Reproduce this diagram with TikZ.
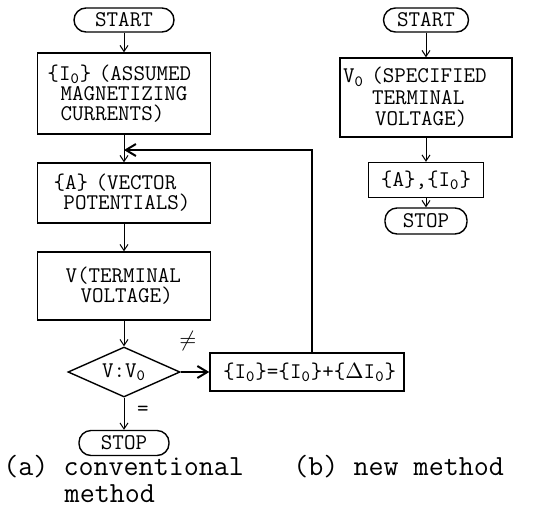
\documentclass[tikz,border=0pt]{standalone}
\usepackage{fontspec}
\usetikzlibrary{shapes,arrows.meta}
\tikzstyle{block} = [draw, rectangle, line width=0.7pt, align=left,
    inner xsep=0pt, inner ysep=2pt]
\tikzstyle{terminal} = [draw, rectangle, rounded corners=6pt,
    line width=0.7pt, minimum height=12pt, inner sep=1pt]
\tikzstyle{decision} = [draw, diamond, aspect=2.2, inner sep=0pt,
    minimum width=56pt, minimum height=25pt, line width=0.7pt]
\tikzstyle{flow} = [draw, -{Straight Barb[length=3pt,width=4pt]}, line width=0.5pt]
\tikzstyle{loopline} = [draw, -{Straight Barb[length=5pt,width=6pt]}, line width=1pt]
\tikzstyle{caption} = [anchor=base west, inner sep=0pt,
    font=\ttfamily\fontsize{14.6}{14}\selectfont]
\newcommand{\ind}[1]{\hspace*{#1pt}}

\begin{document}
\begin{tikzpicture}[font=\ttfamily\fontsize{11.2}{10}\selectfont]
    \useasboundingbox (0,0) rectangle (267pt,-254.5pt);
    % conventional method, left column
    \node [terminal, minimum width=50pt] (start1) at (62pt,-10pt) {START};
    \node [block, below of=start1, node distance=36.75pt, text width=86.5pt,
        minimum height=40.5pt] (assumed)
        {\ind{5}\{I\textsubscript{0}\} (ASSUMED\\\ind{11.5}MAGNETIZING\\\ind{11.5}CURRENTS)};
    \node [block, below of=assumed, node distance=49.75pt, text width=86.5pt,
        minimum height=30pt] (potential)
        {\ind{8}\{A\} (VECTOR\\\ind{13}POTENTIALS)};
    \node [block, below of=potential, node distance=46.5pt, text width=86.5pt,
        minimum height=34pt] (voltage)
        {\ind{14}V(TERMINAL\\\ind{21.5}VOLTAGE)};
    \node [decision, below of=voltage, node distance=43pt] (compare) {V:V\textsubscript{0}};
    \node [terminal, below of=compare, node distance=35.5pt, minimum width=45pt,
        minimum height=12.5pt] (stop1) {STOP};
    \node [block, right of=compare, node distance=91.5pt, text width=97pt,
        minimum height=19pt] (update)
        {\ind{6.5}\{I\textsubscript{0}\}=\{I\textsubscript{0}\}+\{$\Delta$I\textsubscript{0}\}};
    \coordinate (ret) at (156pt,-75pt);

    % new method, right column
    \node [terminal, right of=start1, node distance=151pt, minimum width=42.5pt] (start2) {START};
    \node [block, below of=start2, node distance=38.75pt, text width=86pt,
        minimum height=39.5pt, font=\ttfamily\fontsize{11.2}{10.75}\selectfont] (specified)
        {\ind{1.5}V\textsubscript{0} (SPECIFIED\\\ind{16}TERMINAL\\\ind{17.5}VOLTAGE)};
    \node [block, below of=specified, node distance=41.25pt, text width=57.5pt,
        minimum height=17.5pt, align=center] (result)
        {\{A\},\{I\textsubscript{0}\}};
    \node [terminal, below of=result, node distance=20.5pt, minimum width=41pt,
        minimum height=13pt] (stop2) {STOP};

    % connectors
    \draw [flow] (start1) -- (assumed);
    \draw [flow] (assumed) -- (potential);
    \draw [flow] (potential) -- (voltage);
    \draw [flow] (voltage) -- (compare);
    \draw [flow] (compare) -- node [right=3pt, pos=0.4] {=} (stop1);
    \draw [loopline] (compare) -- node [above=7pt, pos=0.25] {$\neq$} (update);
    \draw [loopline] (update.north -| ret) -- (ret) -- (ret -| assumed.south);
    \draw [flow] (start2) -- (specified);
    \draw [flow] (specified) -- (result);
    \draw [flow] (result) -- (stop2);

    % captions
    \node [caption] (capa) at (1.5pt,-237.5pt) {(a) conventional};
    \node [caption] (capm) at ([yshift=-13.5pt]capa.base west) {\hspace*{2.1em}method};
    \node [caption] (capb) at (146.5pt,-237.5pt) {(b) new method};
\end{tikzpicture}
\end{document}
